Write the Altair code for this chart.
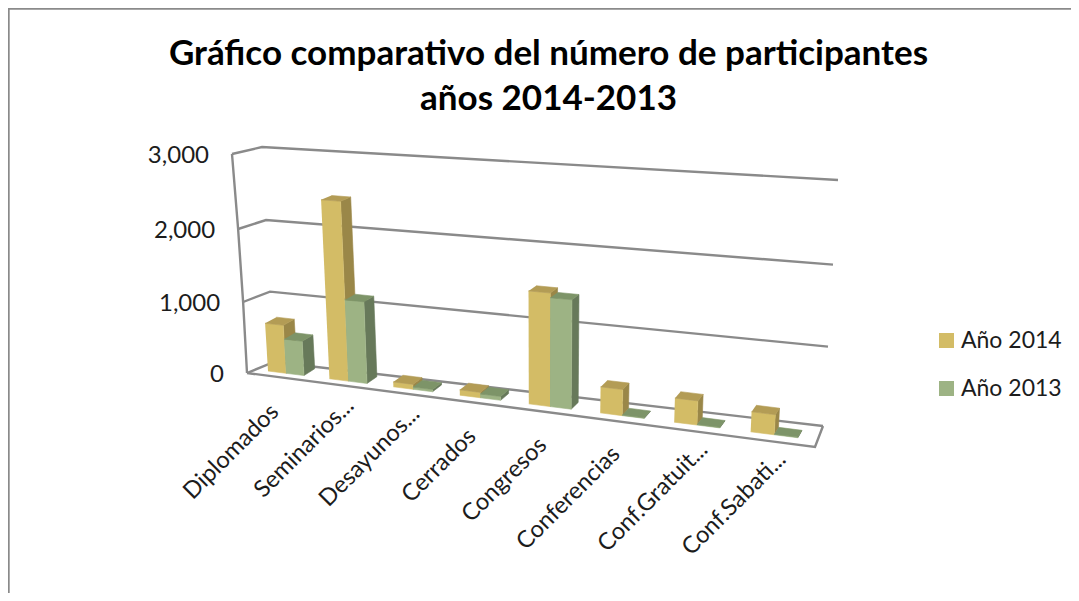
import altair as alt
import pandas as pd

categories = ["Diplomados", "Seminarios...", "Desayunos...", "Cerrados", "Congresos",
              "Conferencias", "Conf.Gratuit...", "Conf.Sabati..."]
serie_2014 = [660, 2435, 65, 70, 1460, 330, 300, 245]
serie_2013 = [470, 1100, 30, 50, 1400, 8, 8, 8]
ticks = [0, 1000, 2000, 3000]
tick_labels = ["0", "1,000", "2,000", "3,000"]
series = ["Año 2014", "Año 2013"]
title_lines = ["Gráfico comparativo del número de participantes", "años 2014-2013"]

YEL = dict(front="#D3BC66", side="#9A8748", top="#B39C55")
GRN = dict(front="#9DB384", side="#67795A", top="#7D9468")
GRID = "#8A8A8A"
TEXT = "#1C1C1C"
FONT = "Lato"


def base_x(i):
    return 268 + 60.2 * i + 1.25 * i * i


def bar_w(i):
    return 18 + 0.8 * i


def base_y(x):
    return 371 + 0.126 * (x - 268)


def height(x):
    return 217 + 0.058 * (x - 270)


def corner(x, v, d=0.0):
    """Bar corner at floor x, value v, depth fraction d (0 front, 1 back)."""
    h = height(x) * v / 3000
    px = x + (x - 540) / 4500 * h
    py = base_y(x) - h
    dx = 11.2 - (x - 268) * 0.0138
    dy = -6.8 + 2.5 * h / 180
    return px + dx * d, py + dy * d


def wall(u, v):
    """Back wall point: u 0..1 left to right, v value (slight perspective bow)."""
    f = v / 3000
    lx, ly = 274 - 12 * f, 362 - 215 * f + 6 * f * (1 - f)
    rx, ry = 823 + 15 * f, 426 - 246 * f + 12 * f * (1 - f)
    return lx + (rx - lx) * u, ly + (ry - ly) * u


def front_left(v):
    f = v / 3000
    return 247 - 15 * f + 5 * f * (1 - f), 373 - 219 * f + 9 * f * (1 - f)


polys = []


def add_poly(name, pts, color):
    for k, (x, y) in enumerate(pts):
        polys.append(dict(face=name, v=k, x=x, y=y, c=color))


for i, cat in enumerate(categories):
    w = bar_w(i)
    for s, (vals, pal) in enumerate([(serie_2014, YEL), (serie_2013, GRN)]):
        x0 = base_x(i) + s * w
        x1 = x0 + w
        v = vals[i]
        key = f"{i:02d}{s}"
        add_poly(key + "a", [corner(x1, 0), corner(x1, 0, 1), corner(x1, v, 1), corner(x1, v)], pal["side"])
        add_poly(key + "b", [corner(x0, 0), corner(x1, 0), corner(x1, v), corner(x0, v)], pal["front"])
        add_poly(key + "c", [corner(x0, v), corner(x1, v), corner(x1, v, 1), corner(x0, v, 1)], pal["top"])

poly_df = pd.DataFrame(polys)

lines = []
for t in ticks:
    a, b, c = front_left(t), wall(0, t), wall(1, t)
    for k, p in enumerate([a, b, c]):
        lines.append(dict(g=f"grid{t}", v=k, x=p[0], y=p[1]))
for k, t in enumerate([0, 1000, 2000, 3000]):
    p = front_left(t)
    lines.append(dict(g="edge", v=k, x=p[0], y=p[1]))
for k, p in enumerate([front_left(0), (815, 447), wall(1, 0)]):
    lines.append(dict(g="floor", v=k, x=p[0], y=p[1]))
# chart frame: top and left edges
for k, p in enumerate([(8.5, 593), (8.5, 8.5), (1071, 8.5)]):
    lines.append(dict(g="frame", v=k, x=p[0], y=p[1]))
line_df = pd.DataFrame(lines)

tick_df = pd.DataFrame([
    dict(label=l, x=front_left(t)[0] - 23, y=front_left(t)[1] + 2) for t, l in zip(ticks, tick_labels)
])


def label_anchor(i, c):
    x = base_x(i) + bar_w(i) + 2 + 1.0 * i
    y = base_y(base_x(i) + bar_w(i)) + 30
    if c.endswith("..."):
        return x - 1, y - 9
    return x - 13, y + 5


cat_df = pd.DataFrame([
    dict(label=c, x=label_anchor(i, c)[0], y=label_anchor(i, c)[1]) for i, c in enumerate(categories)
])
leg_df = pd.DataFrame([dict(s=s, x=corner(base_x(1) + 5, 200)[0], y=corner(base_x(1) + 5, 200)[1]) for s in series])

X = alt.X("x:Q", scale=alt.Scale(domain=[8, 1071], range=[0, 1063]), axis=None)
Y = alt.Y("y:Q", scale=alt.Scale(domain=[8, 593], range=[0, 585]), axis=None)

legend_layer = alt.Chart(leg_df).mark_square(size=1, opacity=1).encode(
    x=X, y=Y,
    color=alt.Color("s:N", sort=series, scale=alt.Scale(domain=series, range=[YEL["front"], GRN["front"]]),
                    legend=alt.Legend(title=None, orient="none", legendX=927, legendY=321, symbolType="square",
                                      symbolSize=225, symbolOpacity=1, symbolStrokeWidth=0, labelFont=FONT,
                                      labelFontSize=23, labelColor=TEXT, labelOffset=3, rowPadding=24,
                                      padding=0)),
)
grid_layer = alt.Chart(line_df).mark_line(color=GRID, strokeWidth=2.4).encode(
    x=X, y=Y, order="v:Q", detail="g:N")
bars_layer = alt.Chart(poly_df).mark_line(strokeWidth=0.6).encode(
    x=X, y=Y, order="v:Q", detail="face:N",
    fill=alt.Fill("c:N", scale=None), stroke=alt.Stroke("c:N", scale=None))
tick_layer = alt.Chart(tick_df).mark_text(align="right", baseline="middle", font=FONT, fontSize=24, color=TEXT).encode(
    x=X, y=Y, text="label:N")
cat_layer = alt.Chart(cat_df).mark_text(align="right", baseline="middle", angle=315, font=FONT, fontSize=23.6, color=TEXT).encode(
    x=X, y=Y, text="label:N")

chart = alt.layer(legend_layer, grid_layer, bars_layer, tick_layer, cat_layer).properties(
    width=1063, height=585, padding=0, autosize=alt.AutoSizeParams(type="none"),
    title=alt.Title(text=title_lines, font=FONT, fontSize=35, fontWeight="bold", color="black",
                    anchor="middle", dx=9, dy=117, lineHeight=45),
).configure_view(stroke=None)

chart.save("out.html", embed_options={"renderer": "svg", "actions": False})
